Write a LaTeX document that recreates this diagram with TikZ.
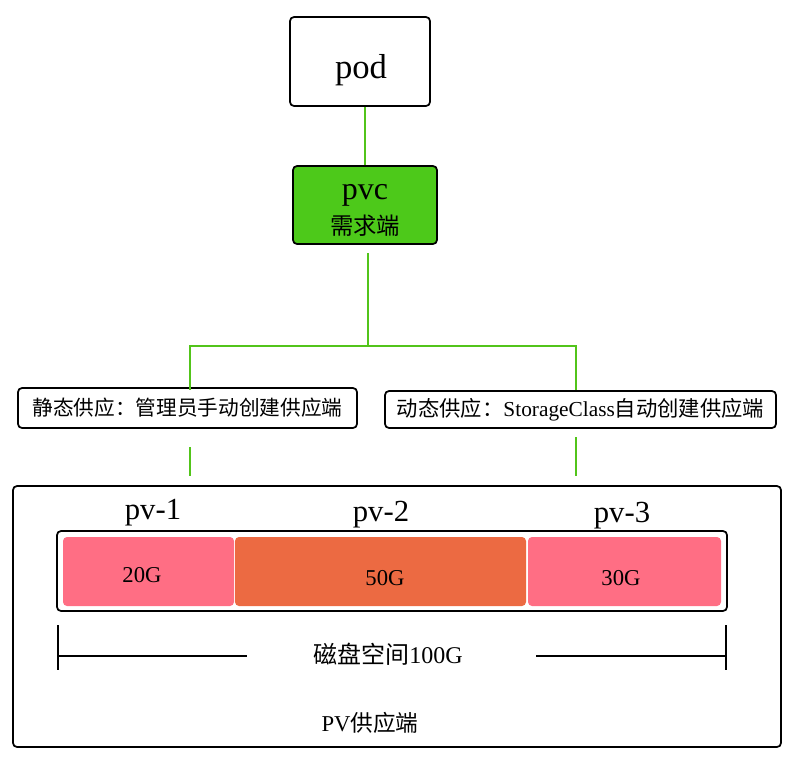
\documentclass[tikz,border=0pt]{standalone}
\usepackage{fontspec}
\setmainfont{Liberation Serif}
\newfontfamily\cjk{Noto Sans CJK SC}
\definecolor{lgreen}{RGB}{82,196,26}
\definecolor{pvcgreen}{RGB}{77,201,26}
\definecolor{pvpink}{RGB}{255,110,132}
\definecolor{pvorange}{RGB}{236,106,66}
\begin{document}
\begin{tikzpicture}[x=0.75pt,y=-0.75pt,
  box/.style={draw=black,line width=1.3pt,rounded corners=3pt,inner sep=0pt},
  seg/.style={rounded corners=3pt,inner sep=0pt,minimum height=51.75pt},
  segtxt/.style={font=\fontsize{17}{20}\selectfont,inner sep=0pt},
  gline/.style={draw=lgreen,line width=1.2pt},
  bline/.style={draw=black,line width=1pt}]
\useasboundingbox (0,0) rectangle (789,765);
% top
\node[box,minimum width=105pt,minimum height=66.75pt] (pod) at (360,61.5) {};
\node[font=\fontsize{26}{28}\selectfont,inner sep=0pt] (podt) at (361,70) {pod};
\node[box,fill=pvcgreen,minimum width=108pt,minimum height=58.5pt] (pvc) at (365,205) {};
\node[font=\fontsize{24}{24}\selectfont,inner sep=0pt] (pvct) at (365,195) {pvc};
\node[font=\cjk\fontsize{17.5}{18}\selectfont,inner sep=0pt] (pvcz) at (365,226) {需求端};
\draw[gline] (pvc.north) -- (pvc.north |- pod.south);
% labels
\node[box,minimum width=254.25pt,minimum height=30pt,font=\cjk\fontsize{15.5}{18}\selectfont] (lab1) at (187.5,408) {静态供应：管理员手动创建供应端};
\node[box,minimum width=293.25pt,minimum height=27.75pt,font=\fontsize{16}{18}\selectfont] (lab2) at (580.5,409.5) {{\cjk 动态供应：}StorageClass{\cjk 自动创建供应端}};
\coordinate (pvcb) at (368,253);
\coordinate (j) at (368,346);
\draw[gline] (pvcb) -- (j);
\draw[gline] (j) -| (190,390);
\draw[gline] (j) -| (576,390);
\coordinate (l1a) at (190,447);
\coordinate (l1b) at (190,476);
\coordinate (l2a) at (576,437);
\coordinate (l2b) at (576,476);
\draw[gline] (l1a) -- (l1b);
\draw[gline] (l2a) -- (l2b);
% outer
\node[box,minimum width=576pt,minimum height=195.75pt] (outer) at (397,616.5) {};
\node[box,minimum width=502.5pt,minimum height=60pt] (bar) at (392,571) {};
\node[seg,fill=pvpink,minimum width=128.25pt] (s1) at (148.5,571.5) {};
\node[seg,fill=pvorange,minimum width=218.25pt] (s2) at (380.5,571.5) {};
\node[seg,fill=pvpink,minimum width=144.75pt] (s3) at (624.5,571.5) {};
\node[segtxt] (t1) at (142,575) {20G};
\node[segtxt] (t2) at (385,578) {50G};
\node[segtxt] (t3) at (621,578) {30G};
\node[font=\fontsize{23}{24}\selectfont] (pv1) at (153,513) {pv-1};
\node[font=\fontsize{23}{24}\selectfont] (pv2) at (381,515) {pv-2};
\node[font=\fontsize{23}{24}\selectfont] (pv3) at (622,516) {pv-3};
% dimension
\coordinate (t1a) at (58,625);
\coordinate (t1b) at (58,670);
\coordinate (t2a) at (726,625);
\coordinate (t2b) at (726,670);
\draw[bline] (t1a) -- (t1b);
\draw[bline] (t2a) -- (t2b);
\coordinate (h1a) at (58,656);
\coordinate (h1b) at (247,656);
\coordinate (h2a) at (536,656);
\coordinate (h2b) at (726,656);
\draw[bline] (h1a) -- (h1b);
\draw[bline] (h2a) -- (h2b);
\node[font=\fontsize{18}{20}\selectfont] (disk) at (388,654) {{\cjk 磁盘空间}100G};
\node[font=\fontsize{17}{20}\selectfont] (pvs) at (370,723) {PV{\cjk 供应端}};
\end{tikzpicture}
\end{document}
